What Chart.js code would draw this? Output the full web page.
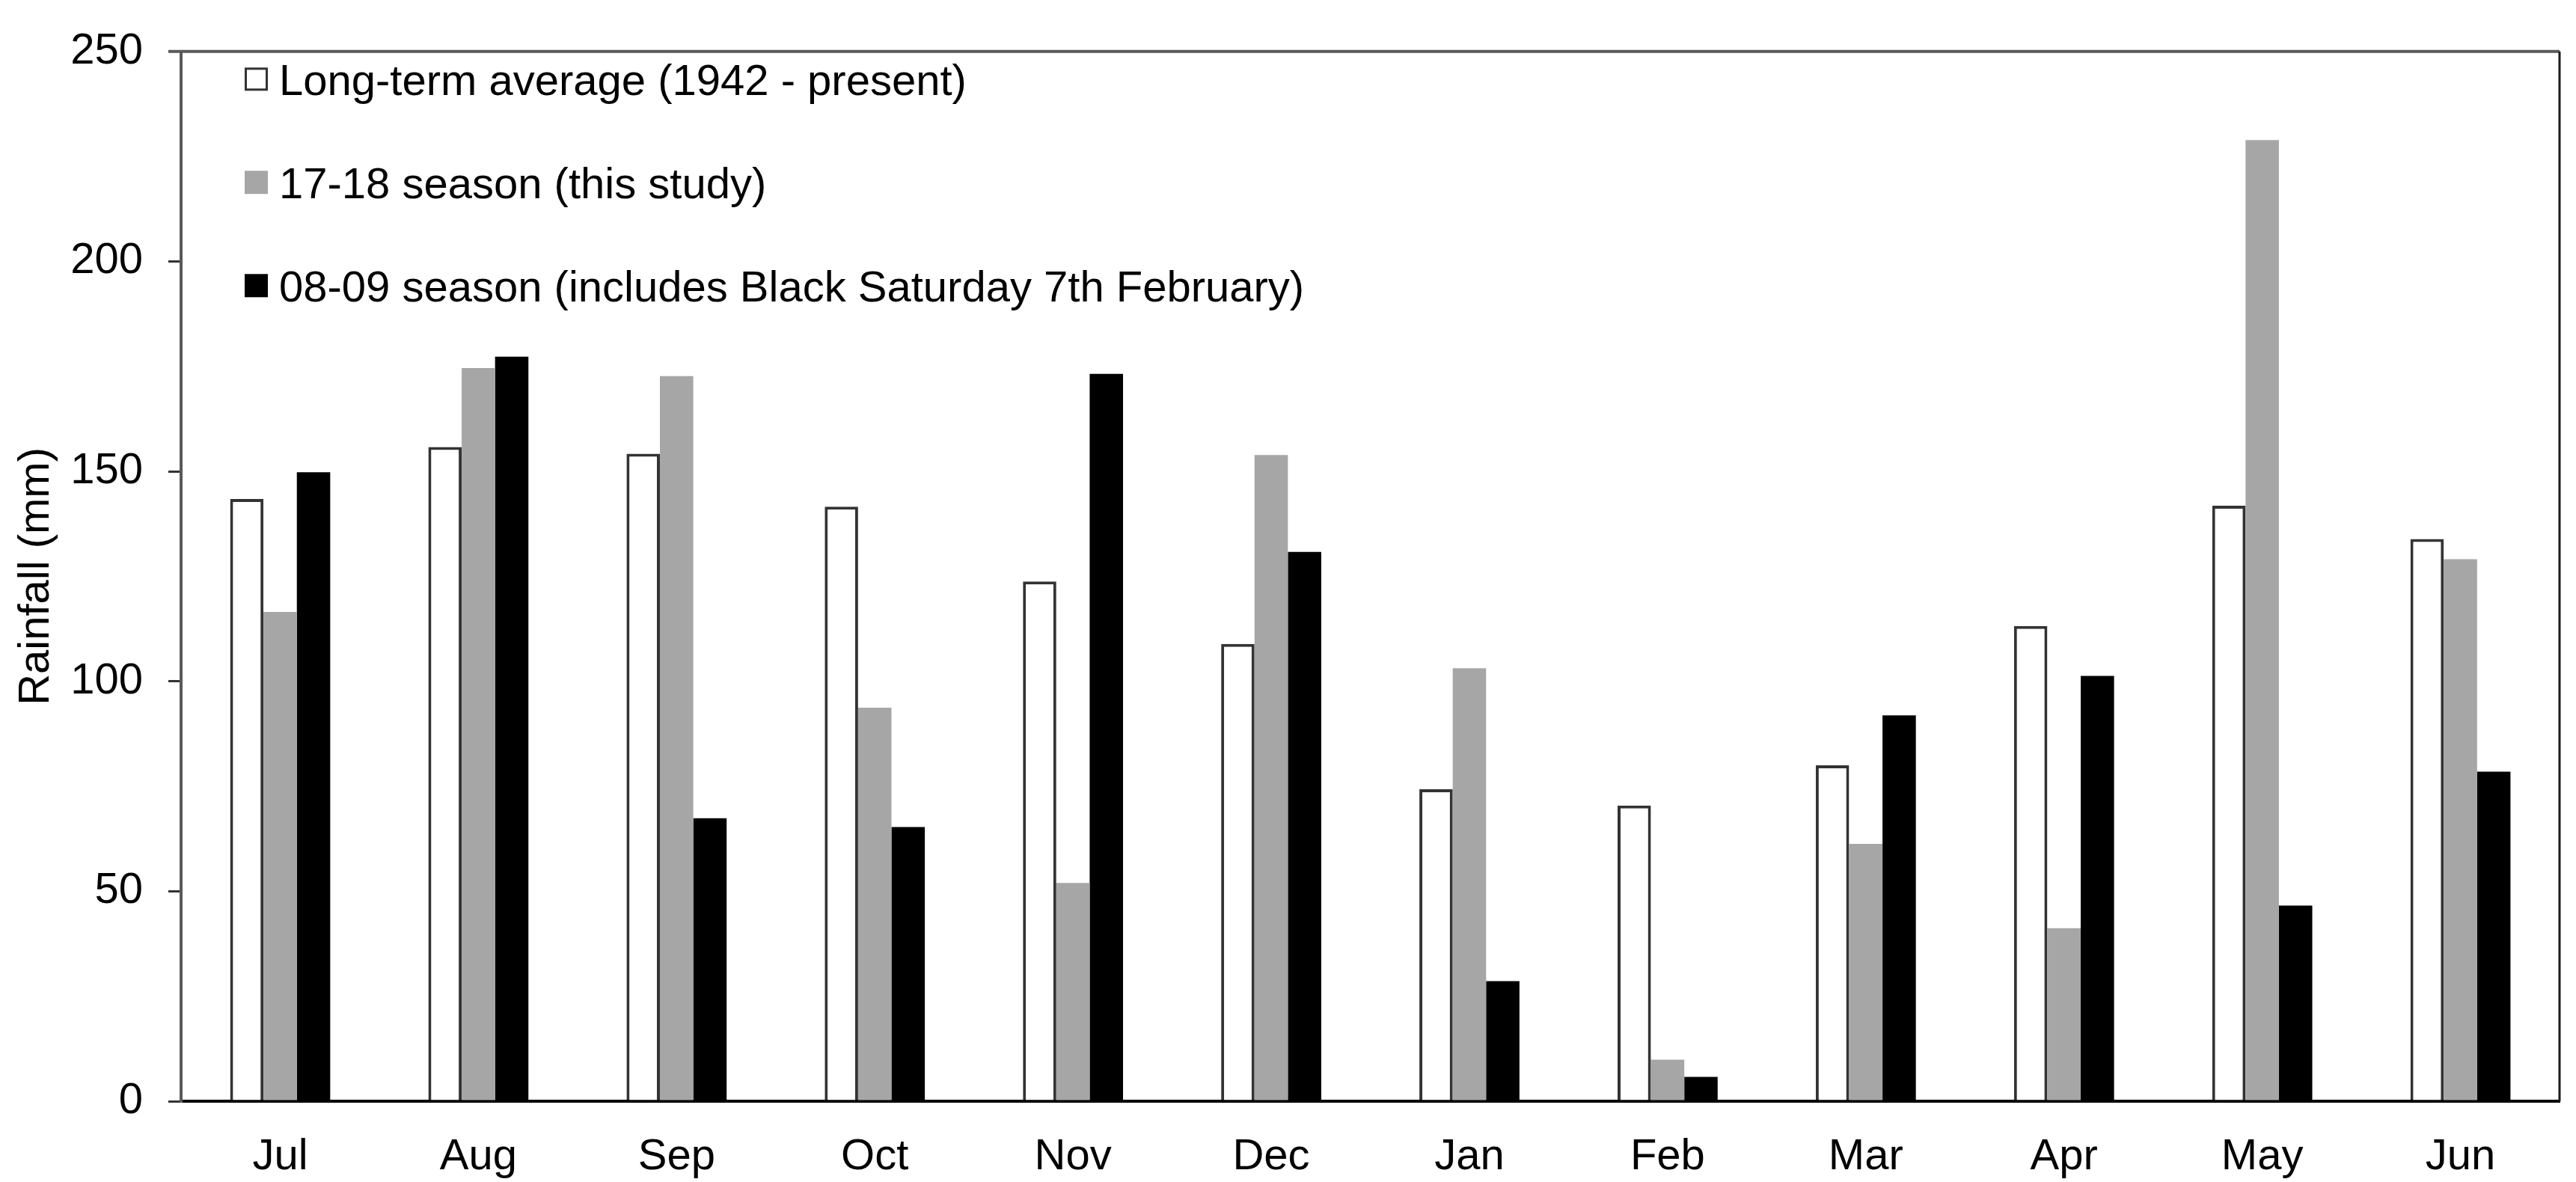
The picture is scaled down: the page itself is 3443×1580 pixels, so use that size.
<!DOCTYPE html>
<html>
<head>
<meta charset="utf-8">
<script src="https://cdn.jsdelivr.net/npm/chart.js@4.4.1/dist/chart.umd.min.js"></script>
<style>
  html, body { margin: 0; padding: 0; background: #fff; }
  #wrap { width: 3443px; height: 1580px; }
</style>
</head>
<body>
<div id="wrap"><canvas id="chartRain"></canvas></div>
<script>
// ── DATA ──────────────────────────────────────────────────────────────────────
const months     = ['Jul', 'Aug', 'Sep', 'Oct', 'Nov', 'Dec', 'Jan', 'Feb', 'Mar', 'Apr', 'May', 'Jun'];
const longTerm   = [143.4, 155.8, 154.2, 141.6, 123.8, 108.9, 74.3, 70.4, 80.0, 113.2, 141.8, 133.9];
const season1718 = [116.5, 174.6, 172.7, 93.7, 52.0, 153.9, 103.1, 9.9, 61.3, 41.2, 228.9, 129.1];
const season0809 = [149.8, 177.3, 67.4, 65.3, 173.2, 130.8, 28.6, 5.8, 91.9, 101.3, 46.6, 78.5];
const seriesLabels = [
  'Long-term average (1942 - present)',
  '17-18 season (this study)',
  '08-09 season (includes Black Saturday 7th February)'
];
const yTicks = [0, 50, 100, 150, 200, 250];

const FONT = '"Liberation Sans", Arial, sans-serif';
const FS = 58;

// legend drawn inside the plot, top-left, widely spaced rows
const insideLegend = {
  id: 'insideLegend',
  afterDraw(chart) {
    const { ctx, chartArea: a } = chart;
    ctx.save();
    ctx.font = FS + 'px ' + FONT;
    ctx.textBaseline = 'alphabetic';
    ctx.textAlign = 'left';
    chart.data.datasets.forEach((ds, i) => {
      const cy = a.top + 37 + i * 138;
      const bx = a.left + 85, bs = 31;
      ctx.fillStyle = ds.backgroundColor;
      ctx.fillRect(bx, cy - bs / 2, bs, bs);
      if (ds.borderWidth) {
        ctx.strokeStyle = ds.borderColor;
        ctx.lineWidth = 3;
        ctx.strokeRect(bx + 1.5, cy - bs / 2 + 1.5, bs - 3, bs - 3);
      }
      ctx.fillStyle = '#000';
      ctx.fillText(ds.label, a.left + 131, cy + FS * 0.36);
    });
    ctx.restore();
  }
};

// top and right frame lines of the plot box
const frame = {
  id: 'frame',
  afterDatasetsDraw(chart) {
    const { ctx, chartArea: a } = chart;
    ctx.save();
    ctx.lineWidth = 4;
    ctx.strokeStyle = '#595959';
    ctx.beginPath(); ctx.moveTo(a.left - 17, a.top); ctx.lineTo(a.right, a.top); ctx.stroke();
    ctx.lineWidth = 3;
    ctx.strokeStyle = '#1a1a1a';
    ctx.beginPath(); ctx.moveTo(a.right, a.top); ctx.lineTo(a.right, a.bottom); ctx.stroke();
    ctx.restore();
  }
};

new Chart(document.getElementById('chartRain'), {
  type: 'bar',
  data: {
    labels: months,
    datasets: [
      { label: seriesLabels[0], data: longTerm,   backgroundColor: '#ffffff', borderColor: '#333333', borderWidth: 4, borderSkipped: 'bottom' },
      { label: seriesLabels[1], data: season1718, backgroundColor: '#a6a6a6', borderColor: '#8a8a8a', borderWidth: 0 },
      { label: seriesLabels[2], data: season0809, backgroundColor: '#000000', borderColor: '#000000', borderWidth: 0 }
    ]
  },
  options: {
    responsive: true, maintainAspectRatio: false, animation: false,
    categoryPercentage: 0.505, barPercentage: 1.0,
    layout: { padding: { top: 63, right: 22, left: 0, bottom: 0 } },
    plugins: { legend: { display: false }, tooltip: { enabled: false } },
    scales: {
      x: {
        grid: { display: false, drawTicks: false },
        border: { display: true, color: '#000', width: 4 },
        ticks: { color: '#000', font: { family: FONT, size: FS }, padding: 40, maxRotation: 0 },
        afterFit: s => { s.height = 108; }
      },
      y: {
        min: 0, max: 250,
        afterBuildTicks: s => { s.ticks = yTicks.map(v => ({ value: v })); },
        grid: { drawOnChartArea: false, drawTicks: true, tickLength: 17, color: '#333', lineWidth: 3 },
        border: { display: true, color: '#595959', width: 4 },
        ticks: { color: '#000', font: { family: FONT, size: FS }, padding: 34 },
        title: { display: true, text: 'Rainfall (mm)', color: '#000', font: { family: FONT, size: FS }, padding: { top: 14, bottom: 0 } },
        afterFit: s => { s.width = 242; }
      }
    }
  },
  plugins: [frame, insideLegend]
});
</script>
</body>
</html>
